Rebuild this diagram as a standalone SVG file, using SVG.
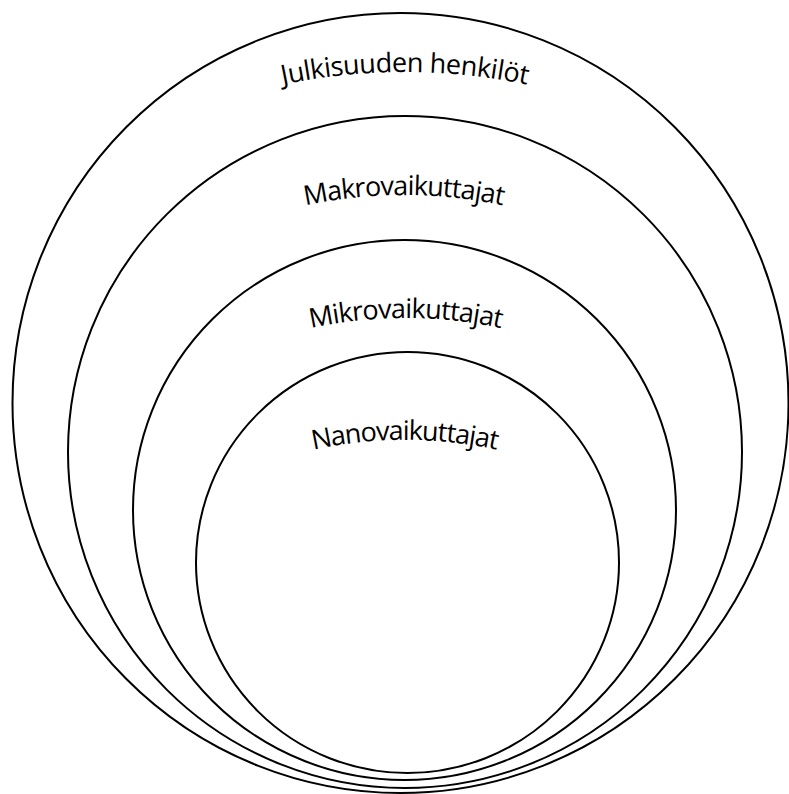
<svg xmlns="http://www.w3.org/2000/svg" width="789" height="794" viewBox="0 0 789 794">
<style>
.ring{fill:none;stroke:#000;stroke-width:2}
.lbl{font-family:"Open Sans","Noto Sans","Liberation Sans",sans-serif;font-size:27px;fill:#000}
</style>
<defs>
<path id="arc1" d="M105,152.4 A600,600 0 0 1 705,152.4"/>
<path id="arc2" d="M164,259.4 A480,480 0 0 1 644,259.4"/>
<path id="arc3" d="M181,378.3 A450,450 0 0 1 631,378.3"/>
<path id="arc4" d="M190,497.5 A430,430 0 0 1 620,497.5"/>
</defs>
<rect width="789" height="794" fill="#fff"/>
<g id="julkisuuden-henkilot">
<ellipse class="ring" cx="400.5" cy="403" rx="388" ry="390"/>
<text class="lbl"><textPath href="#arc1" startOffset="50%" text-anchor="middle" textLength="246">Julkisuuden henkilöt</textPath></text>
</g>
<g id="makrovaikuttajat">
<ellipse class="ring" cx="405" cy="452" rx="337" ry="336"/>
<text class="lbl"><textPath href="#arc2" startOffset="50%" text-anchor="middle" textLength="199">Makrovaikuttajat</textPath></text>
</g>
<g id="mikrovaikuttajat">
<ellipse class="ring" cx="404.5" cy="510" rx="271.5" ry="270"/>
<text class="lbl"><textPath href="#arc3" startOffset="50%" text-anchor="middle" textLength="192">Mikrovaikuttajat</textPath></text>
</g>
<g id="nanovaikuttajat">
<ellipse class="ring" cx="407.5" cy="562.5" rx="211.5" ry="210.5"/>
<text class="lbl"><textPath href="#arc4" startOffset="50%" text-anchor="middle" textLength="185">Nanovaikuttajat</textPath></text>
</g>
<g id="connectors"/>
</svg>
